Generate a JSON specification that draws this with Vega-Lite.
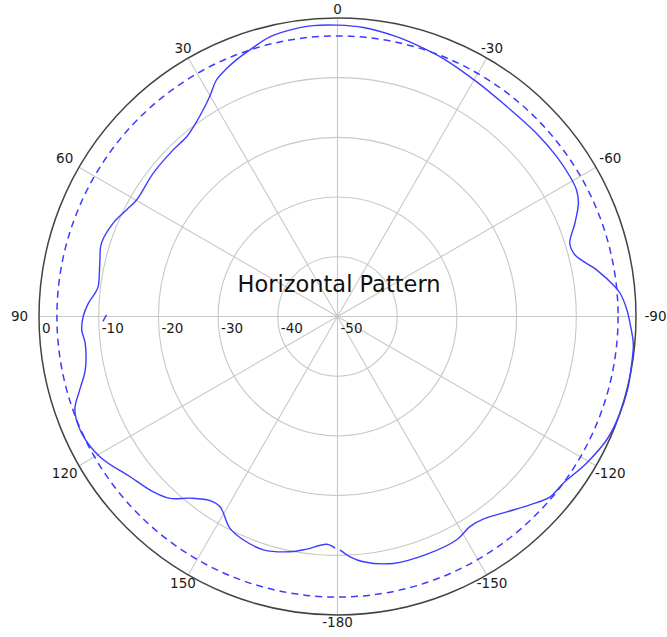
{
  "$schema": "https://vega.github.io/schema/vega-lite/v6.json",
  "width": 667,
  "height": 637,
  "autosize": {"type": "none"},
  "padding": 0,
  "background": "white",
  "config": {"view": {"stroke": null}},
  "datasets": {
    "pattern": [
      {"s": "a", "a": -179.4, "db": -10.9},
      {"s": "a", "a": -177.0, "db": -9.7},
      {"s": "a", "a": -174.0, "db": -8.7},
      {"s": "a", "a": -167.3, "db": -7.6},
      {"s": "a", "a": -159.5, "db": -7.45},
      {"s": "a", "a": -151.9, "db": -7.6},
      {"s": "a", "a": -147.8, "db": -8.4},
      {"s": "a", "a": -144.3, "db": -8.2},
      {"s": "a", "a": -139.1, "db": -6.7},
      {"s": "a", "a": -134.4, "db": -4.9},
      {"s": "a", "a": -130.3, "db": -3.3},
      {"s": "a", "a": -126.5, "db": -3.0},
      {"s": "a", "a": -120.5, "db": -1.6},
      {"s": "a", "a": -114.6, "db": -0.4},
      {"s": "a", "a": -109.5, "db": 0.0},
      {"s": "a", "a": -104.2, "db": 0.1},
      {"s": "a", "a": -99.0, "db": -0.1},
      {"s": "a", "a": -95.2, "db": -0.25},
      {"s": "a", "a": -91.3, "db": -1.0},
      {"s": "a", "a": -88.7, "db": -1.5},
      {"s": "a", "a": -85.3, "db": -2.5},
      {"s": "a", "a": -83.9, "db": -3.25},
      {"s": "a", "a": -79.8, "db": -5.9},
      {"s": "a", "a": -75.5, "db": -8.9},
      {"s": "a", "a": -72.5, "db": -9.2},
      {"s": "a", "a": -68.6, "db": -7.3},
      {"s": "a", "a": -64.8, "db": -5.4},
      {"s": "a", "a": -62.1, "db": -4.7},
      {"s": "a", "a": -59.0, "db": -4.55},
      {"s": "a", "a": -53.9, "db": -4.55},
      {"s": "a", "a": -47.4, "db": -4.7},
      {"s": "a", "a": -37.9, "db": -4.8},
      {"s": "a", "a": -30.7, "db": -4.3},
      {"s": "a", "a": -22.3, "db": -3.3},
      {"s": "a", "a": -17.7, "db": -2.8},
      {"s": "a", "a": -11.9, "db": -2.1},
      {"s": "a", "a": -5.1, "db": -1.4},
      {"s": "a", "a": 0.0, "db": -1.2},
      {"s": "a", "a": 4.8, "db": -1.1},
      {"s": "a", "a": 8.1, "db": -1.25},
      {"s": "a", "a": 13.6, "db": -1.8},
      {"s": "a", "a": 18.2, "db": -3.0},
      {"s": "a", "a": 21.5, "db": -3.8},
      {"s": "a", "a": 24.1, "db": -4.5},
      {"s": "a", "a": 27.1, "db": -5.5},
      {"s": "a", "a": 30.0, "db": -7.3},
      {"s": "a", "a": 33.0, "db": -8.7},
      {"s": "a", "a": 37.2, "db": -10.1},
      {"s": "a", "a": 40.0, "db": -10.7},
      {"s": "a", "a": 44.6, "db": -10.8},
      {"s": "a", "a": 52.1, "db": -10.9},
      {"s": "a", "a": 59.9, "db": -11.1},
      {"s": "a", "a": 63.2, "db": -10.4},
      {"s": "a", "a": 67.4, "db": -9.3},
      {"s": "a", "a": 72.8, "db": -8.6},
      {"s": "a", "a": 77.4, "db": -9.2},
      {"s": "a", "a": 82.9, "db": -9.6},
      {"s": "a", "a": 84.5, "db": -9.2},
      {"s": "a", "a": 87.0, "db": -8.2},
      {"s": "a", "a": 90.0, "db": -7.4},
      {"s": "a", "a": 93.0, "db": -7.1},
      {"s": "a", "a": 96.1, "db": -7.5},
      {"s": "a", "a": 102.0, "db": -6.8},
      {"s": "a", "a": 105.9, "db": -5.1},
      {"s": "a", "a": 109.6, "db": -3.3},
      {"s": "a", "a": 114.5, "db": -2.9},
      {"s": "a", "a": 120.6, "db": -3.8},
      {"s": "a", "a": 127.7, "db": -6.1},
      {"s": "a", "a": 133.6, "db": -7.4},
      {"s": "a", "a": 137.4, "db": -8.6},
      {"s": "a", "a": 140.9, "db": -10.8},
      {"s": "a", "a": 145.3, "db": -12.5},
      {"s": "a", "a": 148.3, "db": -12.55},
      {"s": "a", "a": 153.1, "db": -10.2},
      {"s": "a", "a": 157.1, "db": -9.4},
      {"s": "a", "a": 162.4, "db": -9.0},
      {"s": "a", "a": 168.6, "db": -9.8},
      {"s": "a", "a": 172.5, "db": -10.7},
      {"s": "a", "a": 177.3, "db": -11.8},
      {"s": "a", "a": 179.4, "db": -11.2},
      {"s": "b", "a": 89.6, "db": -11.3},
      {"s": "b", "a": 91.2, "db": -10.7}
    ],
    "rings": [
      {"db": 0, "t": "0"},
      {"db": -10, "t": "-10"},
      {"db": -20, "t": "-20"},
      {"db": -30, "t": "-30"},
      {"db": -40, "t": "-40"},
      {"db": -50, "t": "-50"}
    ],
    "angles": [
      {"a": 0, "t": "0"},
      {"a": 30, "t": "30"},
      {"a": 60, "t": "60"},
      {"a": 90, "t": "90"},
      {"a": 120, "t": "120"},
      {"a": 150, "t": "150"},
      {"a": 180, "t": "-180"},
      {"a": -150, "t": "-150"},
      {"a": -120, "t": "-120"},
      {"a": -90, "t": "-90"},
      {"a": -60, "t": "-60"},
      {"a": -30, "t": "-30"}
    ],
    "ref": [{"db": -3}]
  },
  "encoding": {
    "x": {
      "field": "px",
      "type": "quantitative",
      "scale": {"domain": [-56.533, 55.192], "nice": false, "zero": false},
      "axis": null
    },
    "y": {
      "field": "py",
      "type": "quantitative",
      "scale": {"domain": [-53.685, 53.015], "nice": false, "zero": false},
      "axis": null
    }
  },
  "layer": [
    {
      "data": {"name": "rings"},
      "transform": [
        {"filter": "datum.db < 0 && datum.db > -50"},
        {"calculate": "datum.db + 50", "as": "r"},
        {"calculate": "0", "as": "px"},
        {"calculate": "0", "as": "py"}
      ],
      "mark": {"type": "point", "shape": "circle", "filled": false, "opacity": 1, "color": "#c8c8c8", "strokeWidth": 1.1},
      "encoding": {
        "size": {
          "field": "r",
          "type": "quantitative",
          "scale": {"type": "pow", "exponent": 2, "domain": [0, 50], "range": [0, 356409]},
          "legend": null
        }
      }
    },
    {
      "data": {"name": "angles"},
      "transform": [
        {"calculate": "0", "as": "px"},
        {"calculate": "0", "as": "py"},
        {"calculate": "-50 * sin(datum.a * PI / 180)", "as": "ex"},
        {"calculate": "50 * cos(datum.a * PI / 180)", "as": "ey"}
      ],
      "mark": {"type": "rule", "color": "#c8c8c8", "strokeWidth": 1.1},
      "encoding": {
        "x2": {"field": "ex"},
        "y2": {"field": "ey"}
      }
    },
    {
      "data": {"name": "rings"},
      "transform": [
        {"filter": "datum.db == 0"},
        {"calculate": "datum.db + 50", "as": "r"},
        {"calculate": "0", "as": "px"},
        {"calculate": "0", "as": "py"}
      ],
      "mark": {"type": "point", "shape": "circle", "filled": false, "opacity": 1, "color": "#444444", "strokeWidth": 1.5},
      "encoding": {
        "size": {
          "field": "r",
          "type": "quantitative",
          "scale": {"type": "pow", "exponent": 2, "domain": [0, 50], "range": [0, 356409]},
          "legend": null
        }
      }
    },
    {
      "data": {"name": "ref"},
      "transform": [
        {"calculate": "datum.db + 50", "as": "r"},
        {"calculate": "0", "as": "px"},
        {"calculate": "0", "as": "py"}
      ],
      "mark": {"type": "point", "shape": "circle", "filled": false, "opacity": 1, "color": "#3c3cff", "strokeWidth": 1.5, "strokeDash": [7, 5]},
      "encoding": {
        "size": {
          "field": "r",
          "type": "quantitative",
          "scale": {"type": "pow", "exponent": 2, "domain": [0, 50], "range": [0, 356409]},
          "legend": null
        }
      }
    },
    {
      "data": {"name": "pattern"},
      "transform": [
        {"calculate": "-(datum.db + 50) * sin(datum.a * PI / 180)", "as": "px"},
        {"calculate": "(datum.db + 50) * cos(datum.a * PI / 180)", "as": "py"}
      ],
      "mark": {"type": "line", "color": "#3c3cff", "strokeWidth": 1.4, "interpolate": "catmull-rom"},
      "encoding": {
        "order": {"field": "a", "type": "quantitative"},
        "detail": {"field": "s", "type": "nominal"}
      }
    },
    {
      "data": {"name": "angles"},
      "transform": [
        {"calculate": "(306 + 12 * pow(sin(datum.a * PI / 180), 2)) / 5.97", "as": "rl"},
        {"calculate": "-datum.rl * sin(datum.a * PI / 180)", "as": "px"},
        {"calculate": "datum.rl * cos(datum.a * PI / 180)", "as": "py"}
      ],
      "mark": {"type": "text", "font": "DejaVu Sans", "fontSize": 13.5, "color": "#1a1a1a", "align": "center", "baseline": "middle"},
      "encoding": {
        "text": {"field": "t", "type": "nominal"}
      }
    },
    {
      "data": {"name": "rings"},
      "transform": [
        {"calculate": "-(datum.db + 50)", "as": "px"},
        {"calculate": "0", "as": "py"}
      ],
      "mark": {"type": "text", "font": "DejaVu Sans", "fontSize": 13.5, "color": "#1a1a1a", "align": "left", "baseline": "middle", "dx": 3, "dy": 12.5},
      "encoding": {
        "text": {"field": "t", "type": "nominal"}
      }
    },
    {
      "data": {"values": [{"t": "Horizontal Pattern"}]},
      "transform": [
        {"calculate": "0.25", "as": "px"},
        {"calculate": "4.05", "as": "py"}
      ],
      "mark": {"type": "text", "font": "DejaVu Sans", "fontSize": 22.5, "color": "#111111", "align": "center", "baseline": "alphabetic"},
      "encoding": {
        "text": {"field": "t", "type": "nominal"}
      }
    }
  ]
}
